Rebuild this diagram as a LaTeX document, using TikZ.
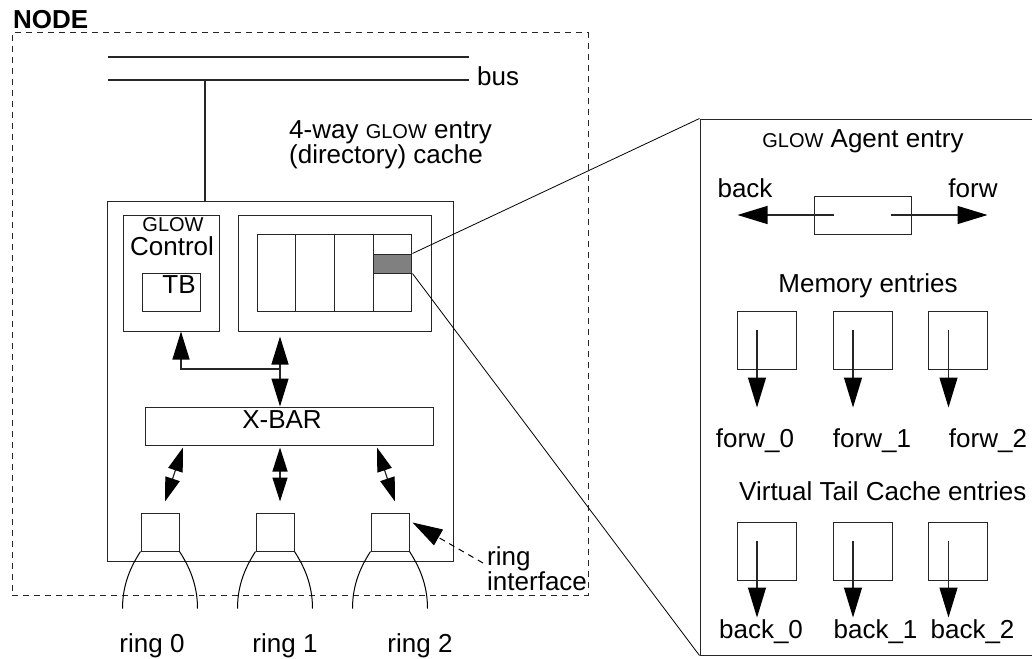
\documentclass[tikz,border=0pt]{standalone}
\usepackage{fontspec}
\setmainfont{Liberation Sans}
\usetikzlibrary{arrows.meta,calc}
\newcommand\glowsc{{\fontsize{20}{20}\selectfont GLOW}}
\begin{document}
\begin{tikzpicture}[x=1pt,y=-1pt,
  box/.style={draw=black!85, line width=1pt, inner sep=0pt},
  txt/.style={inner sep=0pt, font=\fontsize{26}{26}\selectfont},
  ln/.style={line width=1.2pt, draw=black!85},
  tip/.style={ln, -{Triangle[length=28pt,width=17pt,color=black]}},
  ptip/.style={ln, -{Triangle[length=30pt,width=18pt,color=black]}},
  dtip/.style={ln, {Triangle[length=28pt,width=17pt,color=black]}-{Triangle[length=28pt,width=17pt,color=black]}},
  sdtip/.style={ln, {Triangle[length=24pt,width=15pt,color=black]}-{Triangle[length=24pt,width=15pt,color=black]}},
  dashbox/.style={draw=black!85, line width=1pt, dash pattern=on 6pt off 5pt},
  zoomln/.style={draw=black, line width=0.8pt}]
\useasboundingbox (0,0) rectangle (1032,658);

% NODE frame
\node[dashbox, minimum width=576pt, minimum height=562pt] (nodebox) at (300,314) {};
\node[txt, font=\fontsize{26}{26}\selectfont\bfseries, anchor=base west] (nodelbl) at (13,29) {NODE};

% bus
\coordinate (busAw) at (108,57); \coordinate (busAe) at (469,57);
\coordinate (busBw) at (108,80); \coordinate (busBe) at (469,80);
\draw[ln] (busAw) -- (busAe);
\draw[ln] (busBw) -- (busBe);
\node[txt, anchor=base west] (buslbl) at (477,86) {bus};

\node[txt, anchor=base west] (cachelblA) at (289,139) {4-way \glowsc{} entry};
\node[txt, anchor=base west] (cachelblB) at (289,163) {(directory) cache};

% big box
\node[box, minimum width=346pt, minimum height=360pt] (bigbox) at (280,381) {};
\coordinate (busdrop) at (205,80);
\draw[ln] (busdrop) -- (busdrop |- bigbox.north);

% GLOW control
\node[box, minimum width=96pt, minimum height=116pt] (ctrl) at (171,273) {};
\node[txt, font=\fontsize{20}{20}\selectfont, anchor=base] (glowA) at (173,231) {GLOW};
\node[txt, anchor=base] (control) at (172,255) {Control};
\node[box, minimum width=58pt, minimum height=38pt] (tb) at (171,292) {};
\node[txt, anchor=base] (tblbl) at (179,293) {TB};

% cache
\node[box, minimum width=193pt, minimum height=116pt] (cache) at (334.5,273) {};
\foreach \i/\x in {1/276.4,2/315.1,3/353.9,4/392.6}
  \node[box, minimum width=38.75pt, minimum height=77pt] (way\i) at (\x,272.5) {};
\node[box, fill=black!50, minimum width=38.75pt, minimum height=19pt] (sel) at (392.6,263.5) {};

% X-BAR
\node[box, minimum width=288pt, minimum height=38pt] (xbar) at (289,426) {};
\node[txt, anchor=base] (xbarlbl) at (282,428) {X-BAR};

\coordinate (junc) at (280,369);
\draw[tip] (junc) -| ([xshift=10pt]ctrl.south);
\draw[dtip] ($(cache.south -| junc)+(0,5)$) -- (xbar.north -| junc);

% ring interfaces
\foreach \i/\x in {0/160,1/275,2/390}
  \node[box, minimum width=38pt, minimum height=38pt] (r\i) at (\x,532) {};
\draw[sdtip] ($(xbar.south)+(-106,2)$) -- ($(r0.north)+(5,-11)$);
\draw[sdtip] ($(xbar.south -| r1)+(5,2)$) -- ($(r1.north)+(5,-11)$);
\draw[sdtip] ($(xbar.south)+(88,2)$) -- ($(r2.north)+(5,-11)$);

\foreach \i in {0,1,2}{
  \draw[line width=1pt] (r\i.south west) .. controls ($(r\i.south west)+(-9,14)$) and ($(r\i.south west)+(-18,32)$) .. ($(r\i.south west)+(-18,57)$);
  \draw[line width=1pt] (r\i.south east) .. controls ($(r\i.south east)+(9,14)$) and ($(r\i.south east)+(18,32)$) .. ($(r\i.south east)+(18,57)$);
}
\node[txt, anchor=base] (ring0) at (152,652) {ring 0};
\node[txt, anchor=base] (ring1) at (285,652) {ring 1};
\node[txt, anchor=base] (ring2) at (420,652) {ring 2};

\node[txt, anchor=base west] (rifA) at (487,565) {ring};
\node[txt, anchor=base west] (rifB) at (487,590) {interface};
\draw[line width=1pt, dash pattern=on 6pt off 5pt, -{Triangle[length=30pt,width=18pt,color=black]}] ($(rifA.base west)+(-4,-2)$) -- ($(r2.north east)+(3,10)$);

% zoom panel
\node[box, minimum width=334pt, minimum height=536pt] (panel) at (867,387) {};
\draw[zoomln] (sel.north east) -- (panel.north west);
\draw[zoomln] (sel.south east) -- (panel.south west);

\node[txt, anchor=base] (agentlbl) at (863,147) {\glowsc{} Agent entry};
\node[txt, anchor=base] (backlbl) at (745,197) {back};
\node[txt, anchor=base] (forwlbl) at (973,197) {forw};
\node[box, minimum width=97pt, minimum height=38pt] (entry) at (862.5,215) {};
\draw[ptip] ($(entry.center)+(-28.5,0)$) -- ($(entry.west)+(-76,0)$);
\draw[ptip] ($(entry.center)+(28.5,0)$) -- ($(entry.east)+(76,0)$);

\node[txt, anchor=base] (memlbl) at (868,292) {Memory entries};
\foreach \i/\x in {0/766.5,1/862.5,2/958}{
  \node[box, minimum width=59pt, minimum height=58pt] (m\i) at (\x,340) {};
  \draw[ptip] ($(m\i.center)+(-9.5,-10)$) -- ($(m\i.south)+(-9.5,38)$);
}
\node[txt, anchor=base] (forw0) at (755,447) {forw\_0};
\node[txt, anchor=base] (forw1) at (872,447) {forw\_1};
\node[txt, anchor=base] (forw2) at (988,447) {forw\_2};

\node[txt, anchor=base west] (vtclbl) at (739,500) {Virtual Tail Cache entries};
\foreach \i/\x in {0/766.5,1/862.5,2/958}{
  \node[box, minimum width=59pt, minimum height=58pt] (v\i) at (\x,551) {};
  \draw[ptip] ($(v\i.center)+(-9.5,-10)$) -- ($(v\i.south)+(-9.5,37)$);
}
\node[txt, anchor=base] (back0) at (761,638) {back\_0};
\node[txt, anchor=base] (back1) at (875.5,638) {back\_1};
\node[txt, anchor=base] (back2) at (972.5,638) {back\_2};
\end{tikzpicture}
\end{document}
